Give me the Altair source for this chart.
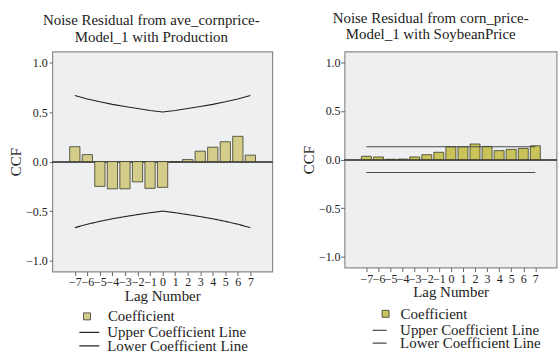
import altair as alt
import pandas as pd

lags = [-7, -6, -5, -4, -3, -2, -1, 0, 1, 2, 3, 4, 5, 6, 7]

left_coef = [0.15, 0.07, -0.25, -0.275, -0.275, -0.205, -0.27, -0.26, 0.0, 0.02, 0.105, 0.145, 0.20, 0.255, 0.065]
left_upper = [0.667, 0.632, 0.603, 0.577, 0.555, 0.535, 0.516, 0.5, 0.516, 0.535, 0.555, 0.577, 0.603, 0.632, 0.667]
left_lower = [-v for v in left_upper]

right_coef = [0.034, 0.027, 0.003, 0.005, 0.027, 0.05, 0.075, 0.132, 0.132, 0.16, 0.135, 0.092, 0.105, 0.115, 0.142]
right_upper = [0.132] * 15
right_lower = [-0.132] * 15

FONT = "Liberation Serif"
UP = "Upper Coefficient Line"
LO = "Lower Coefficient Line"


def panel(coef, upper, lower, title, w, h, bar_color, line_color, title_dx, title_lh,
          title_offset, bar_size, fill_leg, up_leg, lo_leg, line_sym, y_tick, y_lpad, y_tpad,
          x_lpad, x_tpad):
    df = pd.DataFrame({"lag": lags, "coef": coef, "up": upper, "lo": lower})
    xs = alt.Scale(domain=[-8.4, 8.35], nice=False, zero=False)
    ys = alt.Scale(domain=[-1.11, 1.11], nice=False, zero=False)
    xaxis = alt.Axis(values=lags, title="Lag Number", grid=False, domain=False,
                     tickSize=4, labelPadding=x_lpad, titlePadding=x_tpad,
                     labelOverlap=False, labelBound=False, labelFlush=False)
    yaxis = alt.Axis(values=[-1.0, -0.5, 0.0, 0.5, 1.0], format=".1f", title="CCF",
                     grid=False, domain=False, tickSize=y_tick, minExtent=0,
                     labelPadding=y_lpad, titlePadding=y_tpad, labelOverlap=False)
    base = alt.Chart(df)
    bars = base.transform_calculate(name="'Coefficient'").mark_bar(
        size=bar_size, stroke="#3a3a2a", strokeWidth=0.8
    ).encode(
        x=alt.X("lag:Q", scale=xs, axis=xaxis),
        y=alt.Y("coef:Q", scale=ys, axis=yaxis),
        fill=alt.Fill("name:N", scale=alt.Scale(domain=["Coefficient"], range=[bar_color]),
                      legend=alt.Legend(title=None, orient="none",
                                        legendX=fill_leg[0], legendY=fill_leg[1],
                                        symbolType="square", symbolSize=49,
                                        symbolStrokeColor="#333", symbolStrokeWidth=0.8,
                                        labelOffset=fill_leg[2])),
    )
    zero = base.mark_rule(color="#555", strokeWidth=1.2).encode(y=alt.datum(0))
    up_line = base.transform_calculate(series=f"'{UP}'").mark_line(strokeWidth=1.1).encode(
        x=alt.X("lag:Q", scale=xs, axis=xaxis),
        y=alt.Y("up:Q", scale=ys, axis=yaxis),
        stroke=alt.Stroke("series:N", scale=alt.Scale(domain=[UP], range=[line_color]),
                          legend=alt.Legend(title=None, orient="none",
                                            legendX=up_leg[0], legendY=up_leg[1],
                                            symbolType="stroke", symbolSize=line_sym,
                                            symbolStrokeWidth=1.2, labelOffset=up_leg[2])),
    )
    lo_line = base.transform_calculate(series=f"'{LO}'").mark_line(
        strokeWidth=1.1, stroke=line_color
    ).encode(
        x=alt.X("lag:Q", scale=xs, axis=xaxis),
        y=alt.Y("lo:Q", scale=ys, axis=yaxis),
        strokeDash=alt.StrokeDash("series:N", scale=alt.Scale(domain=[LO], range=[[1, 0]]),
                                  legend=alt.Legend(title=None, orient="none",
                                                    legendX=lo_leg[0], legendY=lo_leg[1],
                                                    symbolType="stroke", symbolSize=line_sym,
                                                    symbolStrokeColor=line_color,
                                                    symbolStrokeWidth=1.2,
                                                    labelOffset=lo_leg[2])),
    )
    return alt.layer(zero, bars, up_line, lo_line).properties(
        width=w, height=h,
        title=alt.TitleParams(text=title, font=FONT, fontSize=15, fontWeight="normal",
                              color="#222", lineHeight=title_lh, dx=title_dx,
                              offset=title_offset, anchor="middle"),
    ).resolve_scale(fill="independent", stroke="independent", strokeDash="independent")


left = panel(left_coef, left_upper, left_lower,
             ["Noise Residual from ave_cornprice-", "Model_1 with Production"],
             221, 221, "#d4cd8a", "#222222", -11, 17, 7, 10.3,
             (27.4, 258.5, 13.5), (26.2, 271.1, 7), (26.2, 284.7, 7), 400,
             3, 2, 2, 1, 1)
right = panel(right_coef, right_upper, right_lower,
              ["Noise Residual from corn_price-", "Model_1 with SoybeanPrice"],
              213, 217, "#cac35a", "#4a4a4a", -20, 16, 10, 10,
              (33.7, 255.9, 7.6), (27.2, 272, 12.6), (27.2, 284.9, 12.6), 196,
              4, 0.5, 2, 2, 0)

chart = alt.hconcat(left, right, spacing=26.6).resolve_scale(
    fill="independent", stroke="independent", strokeDash="independent",
    x="independent", y="independent"
).configure(
    padding={"left": 7.5, "top": 9, "right": 0, "bottom": 0},
    background="white",
).configure_view(
    stroke="#8c8c8c", fill="#eeeff0", strokeWidth=1.2
).configure_axis(
    labelFont=FONT, labelFontSize=12, labelColor="#222",
    titleFont=FONT, titleFontSize=15, titleFontWeight="normal", titleColor="#222",
    tickColor="#666",
).configure_legend(
    labelFont=FONT, labelFontSize=15, labelColor="#222", padding=0,
)

chart.save("out.html", embed_options={"renderer": "svg", "actions": False})
